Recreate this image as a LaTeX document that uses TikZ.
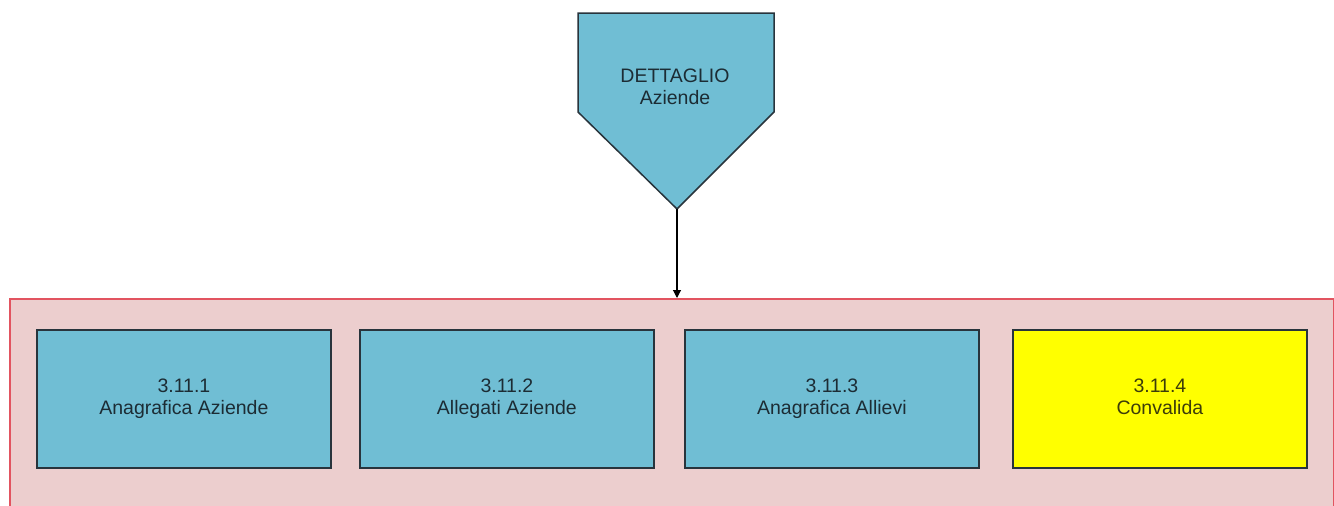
\documentclass[tikz,border=0pt]{standalone}
\usepackage{fontspec}
\setmainfont{Liberation Sans}
\usetikzlibrary{arrows.meta,calc}
\definecolor{boxblue}{RGB}{112,190,212}
\definecolor{contpink}{RGB}{236,206,206}
\definecolor{contred}{RGB}{226,84,96}
\definecolor{boxyellow}{RGB}{255,255,0}
\definecolor{edgedark}{RGB}{40,52,60}
\definecolor{txtdark}{RGB}{28,44,52}
\definecolor{txtolive}{RGB}{60,60,10}
\tikzset{
  procbox/.style={draw=edgedark, line width=1.8pt, fill=boxblue, minimum width=294pt, minimum height=138pt,
    inner sep=0pt, align=center, text=txtdark, font=\fontsize{19.5}{22}\selectfont},
  convbox/.style={procbox, fill=boxyellow, text=txtolive},
  container/.style={draw=contred, line width=1.6pt, fill=contpink, minimum width=1324pt, minimum height=230pt, inner sep=0pt},
  pent/.style={draw=edgedark, line width=1.5pt, fill=boxblue},
  conn/.style={draw=black, line width=1.1pt, -{Triangle[length=8pt,width=8pt]}}
}
\begin{document}
\begin{tikzpicture}[x=1pt,y=-1pt]
\useasboundingbox (0,0) rectangle (1334,506);
\clip (0,0) rectangle (1334,506);
\fill[white] (0,0) rectangle (1334,506);
% container
\node[container, anchor=north west] (cont) at (9,298) {};
% pentagon (off-page connector)
\path[pent] (578,13) -- (774,13) -- (774,112) -- (677,209) -- (578,112) -- cycle;
\coordinate (tip) at (677,209);
\node[align=center, text=txtdark, font=\fontsize{19.5}{22}\selectfont] (det) at (675,89) {DETTAGLIO\strut\\Aziende\strut};
% boxes
\node[procbox, anchor=north west] (b1) at (36,329) {3.11.1\strut\\Anagrafica Aziende\strut};
\node[procbox, anchor=north west] (b2) at (359,329) {3.11.2\strut\\Allegati Aziende\strut};
\node[procbox, anchor=north west] (b3) at (684,329) {3.11.3\strut\\Anagrafica Allievi\strut};
\node[convbox, anchor=north west] (b4) at (1012,329) {3.11.4\strut\\Convalida\strut};
% connector
\draw[conn] (tip) -- (tip |- cont.north);
\end{tikzpicture}
\end{document}
